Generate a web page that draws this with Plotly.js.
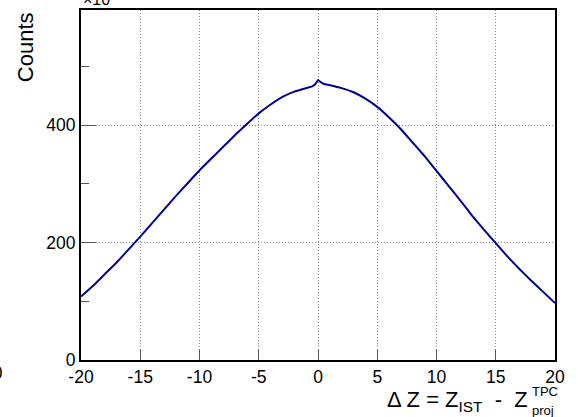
<!DOCTYPE html>
<html>
<head>
<meta charset="utf-8">
<script src="https://cdn.plot.ly/plotly-3.0.1.min.js"></script>
<style>html,body{margin:0;padding:0;background:#fff;}#chart{width:578px;height:417px;}</style>
</head>
<body>
<div id="chart"></div>
<script>
// Delta Z (cm) bin positions and counts (x10^3)
const deltaZ = [-20,-19,-18,-17,-16,-15,-14,-13,-12,-11,-10,-9,-8,-7,-6,-5,-4,-3,-2,-1,-0.5,-0.25,0,0.25,0.5,1,2,3,4,5,6,7,8,9,10,11,12,13,14,15,16,17,18,19,20];
const counts = [108,126,146,166,188,210,233,256,279,301,323,343,363,383,402,420,435,448,457,463,466,469,477,473,470,468,463,456,445,431,413,393,370,347,322,297,272,246,222,199,176,155,135,116,97];
const xTickVals = [-20,-15,-10,-5,0,5,10,15,20];
const yTickVals = [0,200,400];

const FONT = "'Liberation Sans', Arial, Helvetica, sans-serif";

const trace = {
  x: deltaZ, y: counts, type: 'scatter', mode: 'lines',
  line: {color: 'rgb(0,0,150)', width: 2, shape: 'spline', smoothing: 0.3}, hoverinfo: 'none'
};

const layout = {
  width: 578, height: 417,
  margin: {l: 81, r: 23, t: 10, b: 57, pad: 0},
  paper_bgcolor: '#fff', plot_bgcolor: '#fff',
  showlegend: false,
  font: {family: FONT, size: 17.5, color: '#000'},
  xaxis: {
    range: [-20, 20], tickvals: xTickVals, ticktext: xTickVals.map(String),
    ticks: 'inside', ticklen: 10, tickwidth: 1, tickcolor: '#555',
    showline: true, linewidth: 2, linecolor: '#000', mirror: true,
    showgrid: true, gridcolor: '#888', griddash: '1px,2px', gridwidth: 1,
    zeroline: false, tickfont: {family: FONT, size: 17.5, color: '#000'}
  },
  yaxis: {
    range: [0, 596], tickvals: yTickVals, ticktext: yTickVals.map(String),
    ticks: 'inside', ticklen: 15, tickwidth: 1, tickcolor: '#555',
    minor: {dtick: 100, tick0: 0, ticks: 'inside', ticklen: 8, tickcolor: '#555', showgrid: false},
    showline: true, linewidth: 2, linecolor: '#000', mirror: true,
    showgrid: true, gridcolor: '#888', griddash: '1px,2px', gridwidth: 1,
    zeroline: false, tickfont: {family: FONT, size: 17.5, color: '#000'}
  },
  annotations: [
    {xref: 'paper', yref: 'paper', x: 0.947, y: -0.118, xanchor: 'right', yanchor: 'middle',
     text: 'Δ Z = Z<sub>IST</sub>  -  Z', showarrow: false, font: {family: FONT, size: 22, color: '#000'}},
    {xref: 'paper', yref: 'paper', x: 0.947, y: -0.089, xanchor: 'left', yanchor: 'middle',
     text: 'TPC', showarrow: false, font: {family: FONT, size: 13, color: '#000'}},
    {xref: 'paper', yref: 'paper', x: 0.947, y: -0.143, xanchor: 'left', yanchor: 'middle',
     text: 'proj', showarrow: false, font: {family: FONT, size: 13, color: '#000'}},
    {xref: 'paper', yref: 'paper', x: -0.118, y: 0.894, xanchor: 'center', yanchor: 'middle',
     text: 'Counts', textangle: -90, showarrow: false, font: {family: FONT, size: 22, color: '#000'}},
    {xref: 'paper', yref: 'paper', x: 0.0, y: 1.0, xanchor: 'left', yanchor: 'bottom',
     text: '×10<sup>3</sup>', showarrow: false, font: {family: FONT, size: 16, color: '#000'}},
    {xref: 'paper', yref: 'paper', x: -0.160, y: -0.037, xanchor: 'right', yanchor: 'middle',
     text: '20', showarrow: false, font: {family: FONT, size: 17.5, color: '#000'}}
  ]
};

Plotly.newPlot('chart', [trace], layout, {staticPlot: true, displayModeBar: false});
</script>
</body>
</html>
